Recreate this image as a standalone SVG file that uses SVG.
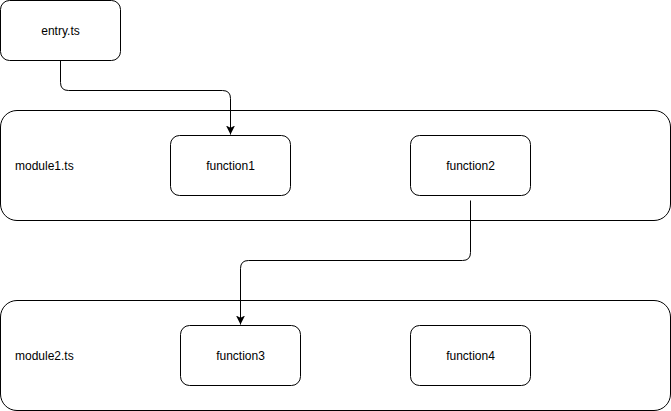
<svg xmlns="http://www.w3.org/2000/svg" width="671" height="411" viewBox="0 0 671 411">
<style>
.box{fill:#fff;stroke:#000;stroke-width:1}
.lbl{font-family:"Liberation Sans",Arial,Helvetica,sans-serif;font-size:12px;fill:#000}
.edge{fill:none;stroke:#000;stroke-width:1}
</style>
<defs>
<marker id="arr" viewBox="0 0 10 10" refX="10" refY="5" markerWidth="9" markerHeight="9" markerUnits="userSpaceOnUse" orient="auto">
<path d="M0,0 L10,5 L0,10 L2.5,5 Z" fill="#000"/>
</marker>
</defs>
<g id="module1">
<rect class="box" x="0.5" y="110.5" width="670" height="110" rx="16.5"/>
<text class="lbl" x="15" y="169.5">module1.ts</text>
</g>
<g id="module2">
<rect class="box" x="0.5" y="300.5" width="670" height="110" rx="16.5"/>
<text class="lbl" x="15" y="359.5">module2.ts</text>
</g>
<g id="entry">
<rect class="box" x="0.5" y="0.5" width="120" height="60" rx="9"/>
<text class="lbl" x="60.5" y="35" text-anchor="middle">entry.ts</text>
</g>
<g id="function1">
<rect class="box" x="170.5" y="135.5" width="120" height="60" rx="9"/>
<text class="lbl" x="230.5" y="169.5" text-anchor="middle">function1</text>
</g>
<g id="function2">
<rect class="box" x="410.5" y="135.5" width="120" height="60" rx="9"/>
<text class="lbl" x="470.5" y="169.5" text-anchor="middle">function2</text>
</g>
<g id="function3">
<rect class="box" x="180.5" y="325.5" width="120" height="60" rx="9"/>
<text class="lbl" x="240.5" y="359.5" text-anchor="middle">function3</text>
</g>
<g id="function4">
<rect class="box" x="410.5" y="325.5" width="120" height="60" rx="9"/>
<text class="lbl" x="470.5" y="359.5" text-anchor="middle">function4</text>
</g>
<g id="connectors">
<path class="edge" d="M60.5,60.5 L60.5,82.5 Q60.5,90.5 68.5,90.5 L222.5,90.5 Q230.5,90.5 230.5,98.5 L230.5,134.5" marker-end="url(#arr)"/>
<path class="edge" d="M470.5,200.5 L470.5,252.5 Q470.5,260.5 462.5,260.5 L248.5,260.5 Q240.5,260.5 240.5,268.5 L240.5,324.5" marker-end="url(#arr)"/>
</g>
</svg>
